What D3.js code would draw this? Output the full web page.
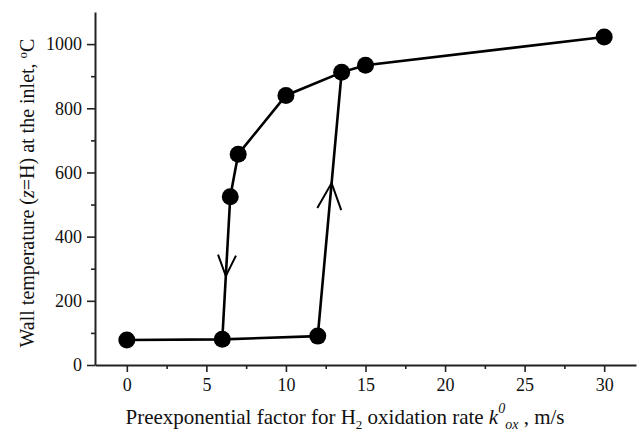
<!DOCTYPE html>
<html>
<head>
<meta charset="utf-8">
<script src="https://cdn.jsdelivr.net/npm/d3@7"></script>
<style>
  body { margin: 0; background: #fff; }
  svg { display: block; }
</style>
</head>
<body>
<svg id="chart" width="637" height="431"></svg>
<script>
// heating branch (ignition): low branch, jump up, then upper branch
let heatX = [0, 6, 12, 13.5, 15, 30];
let heatY = [78, 80, 90, 912, 934, 1022];
// cooling branch (extinction): from upper branch back down
let coolX = [13.5, 10, 7, 6.5, 6];
let coolY = [912, 840, 657, 524, 80];

let xMajor = [0, 5, 10, 15, 20, 25, 30];
let xMinor = [2.5, 7.5, 12.5, 17.5, 22.5, 27.5];
let yMajor = [0, 200, 400, 600, 800, 1000];
let yMinor = [100, 300, 500, 700, 900];

const serif = '"Liberation Serif", "Times New Roman", Times, serif';

let svg = d3.select('#chart');

let x = d3.scaleLinear().domain([-2, 32]).range([95, 636]);
let y = d3.scaleLinear().domain([0, 1100]).range([365, 12]);

// minor ticks first, then the major axes on top
svg.append('g')
  .attr('transform', 'translate(0,365)')
  .call(d3.axisBottom(x).tickValues(xMinor).tickSize(4).tickFormat(''))
  .call(g => g.select('.domain').remove());
svg.append('g')
  .attr('transform', 'translate(95,0)')
  .call(d3.axisLeft(y).tickValues(yMinor).tickSize(4).tickFormat(''))
  .call(g => g.select('.domain').remove());

svg.append('g')
  .attr('class', 'axis')
  .attr('transform', 'translate(0,365)')
  .call(d3.axisBottom(x).tickValues(xMajor).tickFormat(d3.format('d'))
    .tickSize(7).tickSizeOuter(0).tickPadding(6));
svg.append('g')
  .attr('class', 'axis')
  .attr('transform', 'translate(95,0)')
  .call(d3.axisLeft(y).tickValues(yMajor).tickFormat(d3.format('d'))
    .tickSize(8).tickSizeOuter(0).tickPadding(5));

svg.selectAll('.tick line').attr('stroke', '#222').attr('stroke-width', 1.6);
svg.selectAll('.domain').attr('stroke', '#222').attr('stroke-width', 2);
svg.selectAll('g.axis')
  .style('font-family', serif)
  .style('font-size', '18px');
svg.selectAll('.tick text').style('fill', '#111');

// lines
let line = d3.line().x(d => x(d[0])).y(d => y(d[1]));
let heat = heatX.map((v, i) => [v, heatY[i]]);
let cool = coolX.map((v, i) => [v, coolY[i]]);

[heat, cool].forEach(pts => {
  svg.append('path')
    .datum(pts)
    .attr('fill', 'none')
    .attr('stroke', '#000')
    .attr('stroke-width', 2.6)
    .attr('d', line);
});

// open arrowheads along the two vertical jumps
function arrowHead(p0, p1, frac, len, half) {
  let x0 = x(p0[0]), y0 = y(p0[1]), x1 = x(p1[0]), y1 = y(p1[1]);
  let tx = x0 + (x1 - x0) * frac, ty = y0 + (y1 - y0) * frac;
  let dx = x1 - x0, dy = y1 - y0, L = Math.hypot(dx, dy);
  let ux = dx / L, uy = dy / L;
  let bx = tx - ux * len, by = ty - uy * len;
  svg.append('path')
    .attr('fill', 'none')
    .attr('stroke', '#000')
    .attr('stroke-width', 2)
    .attr('d', 'M' + (bx - uy * half) + ',' + (by + ux * half)
      + 'L' + tx + ',' + ty
      + 'L' + (bx + uy * half) + ',' + (by - ux * half));
}
// cooling: going down between (6.5,524) and (6,80)
arrowHead([6.5, 524], [6, 80], 0.556, 21, 9);
// heating: going up between (12,90) and (13.5,912)
arrowHead([12, 90], [13.5, 912], 0.58, 26, 12);

// markers
let allPts = heat.concat(cool.slice(1, 4));
svg.selectAll('circle.pt')
  .data(allPts)
  .enter().append('circle')
  .attr('class', 'pt')
  .attr('cx', d => x(d[0]))
  .attr('cy', d => y(d[1]))
  .attr('r', 8.5)
  .attr('fill', '#000');

// axis titles
let xt = svg.append('text')
  .attr('x', 345)
  .attr('y', 424)
  .attr('text-anchor', 'middle')
  .style('font-family', serif)
  .style('font-size', '21px')
  .style('fill', '#111');
xt.append('tspan').text('Preexponential factor for H');
xt.append('tspan').style('font-size', '13px').attr('dy', 5).text('2');
xt.append('tspan').attr('dy', -5).text(' oxidation rate ');
xt.append('tspan').style('font-style', 'italic').text('k');
xt.append('tspan').style('font-style', 'italic').style('font-size', '14px').attr('dy', -11).text('0');
xt.append('tspan').style('font-style', 'italic').style('font-size', '14px').attr('dy', 16).text('ox');
xt.append('tspan').attr('dy', -5).text(' , m/s');

let yt = svg.append('text')
  .attr('transform', 'translate(34,193) rotate(-90)')
  .attr('text-anchor', 'middle')
  .style('font-family', serif)
  .style('font-size', '20px')
  .style('fill', '#111');
yt.append('tspan').text('Wall temperature (');
yt.append('tspan').style('font-style', 'italic').text('z');
yt.append('tspan').text('=H) at the inlet, ');
yt.append('tspan').style('font-size', '13px').attr('dy', -7).text('o');
yt.append('tspan').attr('dy', 7).text('C');
</script>
</body>
</html>
